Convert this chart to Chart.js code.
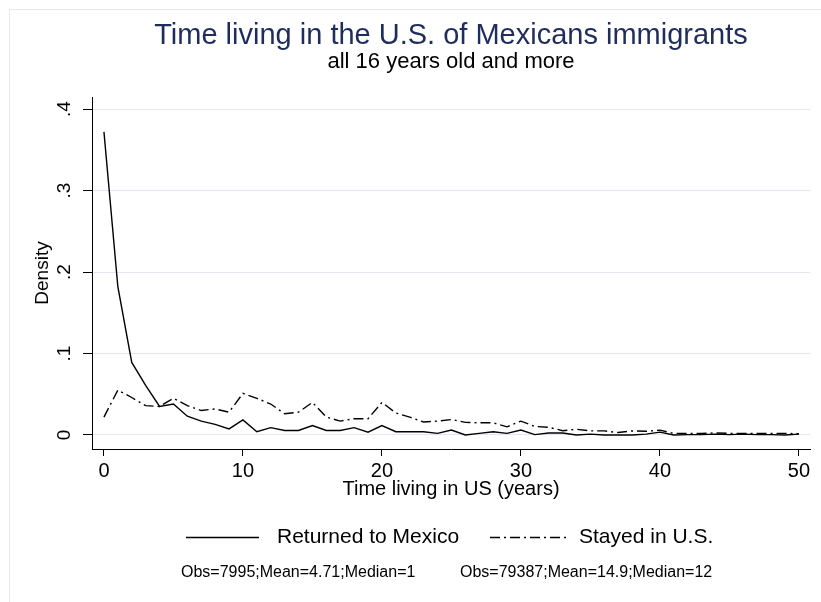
<!DOCTYPE html>
<html>
<head>
<meta charset="utf-8">
<title>Time living in the U.S. of Mexicans immigrants</title>
<script src="https://cdn.jsdelivr.net/npm/chart.js@4.4.1/dist/chart.umd.min.js"></script>
<style>
  html, body { margin: 0; padding: 0; background: #ffffff; }
  #wrap { width: 821px; height: 602px; position: relative; }
</style>
</head>
<body>
<div id="wrap"><canvas id="c" width="821" height="602"></canvas></div>
<script>
// Years lived in the U.S. (x categories)
const years = [0,1,2,3,4,5,6,7,8,9,10,11,12,13,14,15,16,17,18,19,20,21,22,23,24,25,
               26,27,28,29,30,31,32,33,34,35,36,37,38,39,40,41,42,43,44,45,46,47,48,49,50];

// Density of years lived in the U.S., migrants who returned to Mexico
const returnedDensity = [0.372,0.182,0.089,0.061,0.035,0.038,0.023,0.017,0.013,0.0075,0.0185,
  0.004,0.009,0.0055,0.0055,0.0115,0.0055,0.0055,0.009,0.0035,0.0115,0.004,0.004,0.004,0.002,
  0.006,0.0,0.002,0.004,0.002,0.006,0.0005,0.0025,0.0025,0.0,0.001,0.0,0.0,0.0,0.001,0.0035,
  0.0,0.0005,0.0005,0.001,0.0005,0.001,0.0005,0.0005,0.0,0.001];

// Density of years lived in the U.S., immigrants who stayed
const stayedDensity = [0.022,0.055,0.046,0.036,0.035,0.045,0.036,0.030,0.032,0.028,0.051,
  0.045,0.038,0.026,0.028,0.040,0.022,0.017,0.020,0.020,0.040,0.027,0.022,0.016,0.017,
  0.019,0.0155,0.015,0.015,0.010,0.017,0.0105,0.0095,0.0053,0.007,0.005,0.005,0.003,0.005,
  0.0045,0.006,0.002,0.002,0.002,0.0025,0.002,0.002,0.002,0.002,0.002,0.0015];

const xTicks = [0,10,20,30,40,50];
const yTicks = [0,0.1,0.2,0.3,0.4];

const seriesLabels = ['Returned to Mexico', 'Stayed in U.S.'];
const seriesNotes = ['Obs=7995;Mean=4.71;Median=1', 'Obs=79387;Mean=14.9;Median=12'];

const FONT = "'Liberation Sans', Arial, Helvetica, sans-serif";
const GRID = '#e1e6f0';

const toPoints = arr => arr.map((v, i) => ({ x: years[i], y: v }));

// Outer graph-region frame
const framePlugin = {
  id: 'frame',
  beforeDraw(chart) {
    const ctx = chart.ctx;
    ctx.save();
    ctx.fillStyle = '#ffffff';
    ctx.fillRect(0, 0, chart.width, chart.height);
    ctx.strokeStyle = '#e3e8f1';
    ctx.lineWidth = 1;
    ctx.strokeRect(9.5, 9.5, chart.width + 20, chart.height + 20);
    ctx.restore();
  }
};

// Key row (line samples + labels) and the summary notes under each key
const keyPlugin = {
  id: 'keyRow',
  afterDraw(chart) {
    const ctx = chart.ctx;
    const a = chart.chartArea;
    const cx = (a.left + a.right) / 2;
    const rowY = a.bottom + 88.5;
    const noteY = a.bottom + 124;
    const keys = [
      { x0: cx - 265, x1: cx - 192, tx: cx - 174, nx: cx - 270 },
      { x0: cx + 39,  x1: cx + 117, tx: cx + 128, nx: cx + 9 }
    ];
    ctx.save();
    chart.data.datasets.forEach((ds, i) => {
      const k = keys[i];
      ctx.strokeStyle = ds.borderColor;
      ctx.lineWidth = ds.borderWidth;
      ctx.setLineDash(ds.borderDash || []);
      ctx.beginPath();
      ctx.moveTo(k.x0, rowY);
      ctx.lineTo(k.x1, rowY);
      ctx.stroke();
      ctx.setLineDash([]);
      ctx.fillStyle = '#000000';
      ctx.textBaseline = 'middle';
      ctx.textAlign = 'left';
      ctx.font = '21px ' + FONT;
      ctx.fillText(ds.label, k.tx, rowY);
      ctx.font = '16px ' + FONT;
      ctx.fillText(seriesNotes[i], k.nx, noteY);
    });
    ctx.restore();
  }
};

new Chart(document.getElementById('c'), {
  type: 'line',
  data: {
    datasets: [
      {
        label: seriesLabels[0],
        data: toPoints(returnedDensity),
        borderColor: '#000000',
        borderWidth: 1.4,
        pointRadius: 0,
        tension: 0,
        fill: false
      },
      {
        label: seriesLabels[1],
        data: toPoints(stayedDensity),
        borderColor: '#000000',
        borderWidth: 1.4,
        borderDash: [10, 4, 2, 4],
        pointRadius: 0,
        tension: 0,
        fill: false
      }
    ]
  },
  options: {
    responsive: false,
    animation: false,
    layout: { padding: { left: 0, right: 11, top: 0, bottom: 93 } },
    plugins: {
      legend: { display: false },
      tooltip: { enabled: false },
      title: {
        display: true,
        fullSize: false,
        text: 'Time living in the U.S. of Mexicans immigrants',
        color: '#1f2d5c',
        font: { family: FONT, size: 29, weight: 'normal', lineHeight: 1 },
        padding: { top: 21, bottom: 0 }
      },
      subtitle: {
        display: true,
        fullSize: false,
        text: 'all 16 years old and more',
        color: '#000000',
        font: { family: FONT, size: 22, weight: 'normal', lineHeight: 1 },
        padding: { top: 1, bottom: 24 }
      }
    },
    scales: {
      x: {
        type: 'linear',
        min: -0.86,
        max: 50.8,
        afterBuildTicks(scale) { scale.ticks = xTicks.map(v => ({ value: v })); },
        afterFit(scale) { scale.height = 60; },
        ticks: {
          color: '#000000',
          padding: 3,
          maxRotation: 0,
          font: { family: FONT, size: 20 },
          callback: v => String(v)
        },
        grid: { drawOnChartArea: false, drawTicks: true, tickLength: 7, tickColor: '#000000', tickWidth: 1 },
        border: { display: true, color: '#000000', width: 1 },
        title: {
          display: true,
          text: 'Time living in US (years)',
          color: '#000000',
          font: { family: FONT, size: 20, lineHeight: 1.2 },
          padding: { top: 0, bottom: 8 }
        }
      },
      y: {
        type: 'linear',
        min: -0.0172,
        max: 0.4148,
        afterBuildTicks(scale) { scale.ticks = yTicks.map(v => ({ value: v })); },
        afterFit(scale) { scale.width = 92; },
        ticks: {
          color: '#000000',
          padding: 10,
          minRotation: 90,
          maxRotation: 90,
          crossAlign: 'center',
          font: { family: FONT, size: 19 },
          callback: v => (v === 0 ? '0' : String(Math.round(v * 10) / 10).replace(/^0/, ''))
        },
        grid: { color: GRID, lineWidth: 1, drawTicks: true, tickLength: 9, tickColor: '#000000', tickWidth: 1 },
        border: { display: true, color: '#000000', width: 1 },
        title: {
          display: true,
          text: 'Density',
          color: '#000000',
          font: { family: FONT, size: 19, lineHeight: 1.2 },
          padding: { top: 31, bottom: 0 }
        }
      }
    }
  },
  plugins: [framePlugin, keyPlugin]
});
</script>
</body>
</html>
